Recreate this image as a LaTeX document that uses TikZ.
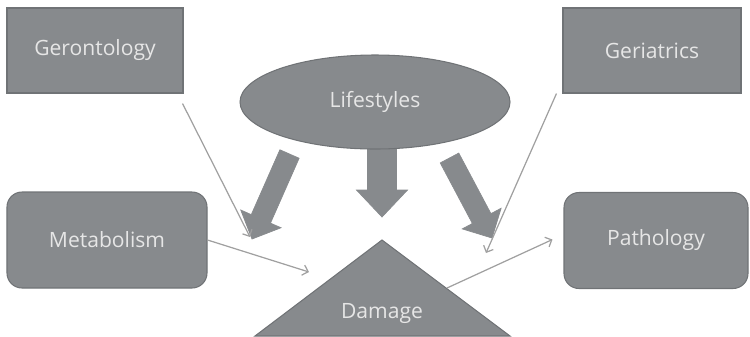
\documentclass[tikz,border=0pt]{standalone}
\usepackage{fontspec}
\setmainfont{Open Sans}
\usepackage{xcolor}
\usepackage{tikz}
\usetikzlibrary{positioning, shapes, calc, arrows.meta}

\definecolor{boxgray}{RGB}{135,138,141}
\definecolor{edgegray}{RGB}{112,115,118}
\definecolor{textgray}{RGB}{230,230,230}
\definecolor{linegray}{RGB}{160,160,160}

% fat arrow: start, tip, half shaft, half head, head length
\newcommand{\fatarrow}[5]{%
  \coordinate (fa-base) at ($(#2)!#5!(#1)$);
  \filldraw[blockarrow] ($(#1)!#3!90:(#2)$) -- ($(fa-base)!#3!90:(#2)$)
    -- ($(fa-base)!#4!90:(#2)$) -- (#2) -- ($(fa-base)!#4!-90:(#2)$)
    -- ($(fa-base)!#3!-90:(#2)$) -- ($(#1)!#3!-90:(#2)$) -- cycle;
}

\begin{document}
\begin{tikzpicture}[x=0.2mm, y=-0.2mm,
    field/.style={draw=edgegray, fill=boxgray, text=textgray, font=\fontsize{12}{14}\selectfont, line width=0.6pt},
    blockarrow/.style={draw=boxgray, fill=boxgray, line width=0.4pt},
    thin/.style={draw=linegray, line width=0.7pt, -{Straight Barb[length=3pt, width=6pt]}}]
  \useasboundingbox (0,0) rectangle (750,336);

  \node[field, rectangle, minimum width=35.2mm, minimum height=17mm] (geron) at (95,50.5) {Gerontology};
  \node[field, rectangle, minimum width=35.6mm, minimum height=17mm] (geri) at (652,50.5) {Geriatrics};
  \node[field, rectangle, rounded corners=3mm, minimum width=40mm, minimum height=19.2mm] (metab) at (107,240) {Metabolism};
  \node[field, rectangle, rounded corners=3mm, minimum width=36.8mm, minimum height=19.2mm] (patho) at (656,240.5) {Pathology};

  % damage triangle
  \filldraw[field] (382,240) -- (510,336) -- (255,336) -- cycle;
  \node[text=textgray, font=\fontsize{12}{14}\selectfont] (damage) at (382,313) {Damage};

  % lifestyle arrows
  \coordinate (ls-l) at (289.5,154);
  \coordinate (ls-m) at (382,140);
  \coordinate (ls-r) at (449.5,158);
  \coordinate (tip-l) at (252,239);
  \coordinate (tip-m) at (382,217);
  \coordinate (tip-r) at (492,238);
  \fatarrow{ls-l}{tip-l}{2.1mm}{4.4mm}{4.4mm}
  \fatarrow{ls-m}{tip-m}{2.9mm}{5.1mm}{5.4mm}
  \fatarrow{ls-r}{tip-r}{2.1mm}{4.4mm}{4.4mm}

  \node[field, ellipse, minimum width=54mm, minimum height=18.8mm] (life) at (375,102) {Lifestyles};

  % thin arrows
  \coordinate (end-geron) at (250,237);
  \coordinate (end-geri) at (486,253);
  \coordinate (end-metab) at (309,272);
  \coordinate (dmg-edge) at (447,288);
  \draw[thin] ($(geron.south east)+(-1,10)$) -- (end-geron);
  \draw[thin] ($(geri.south west)+(-6,0)$) -- (end-geri);
  \draw[thin] (metab.east) -- (end-metab);
  \draw[thin] (dmg-edge) -- ($(patho.west)+(-11,-1)$);
\end{tikzpicture}
\end{document}
